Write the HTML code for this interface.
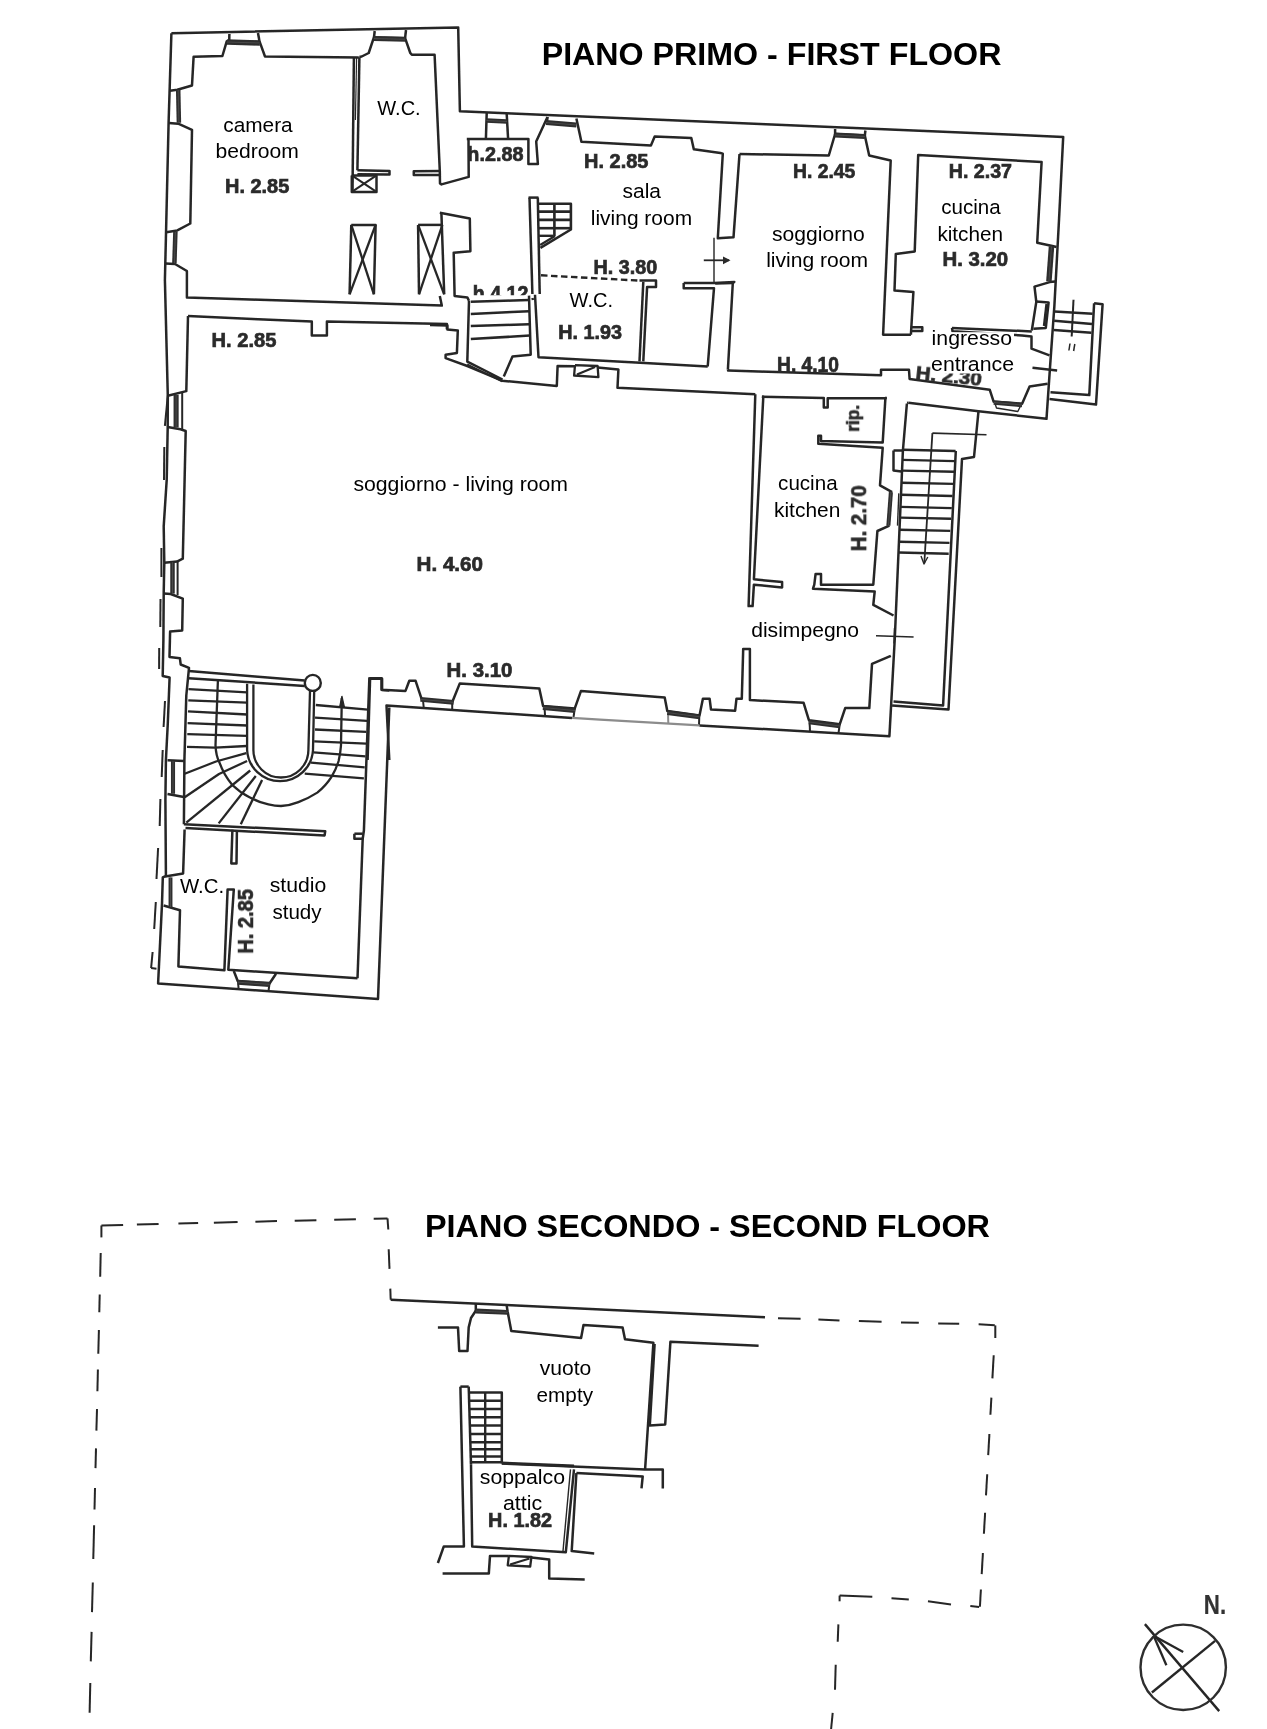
<!DOCTYPE html><html><head><meta charset="utf-8"><title>Floor plan</title><style>html,body{margin:0;padding:0;background:#fff}body{width:1267px;height:1729px;overflow:hidden}svg{display:block}text{font-family:'Liberation Sans', Arial, Helvetica, sans-serif;fill:#000}.h{fill:#2b2b2b;stroke:#2b2b2b;stroke-width:0.7px}.n{fill:#333;stroke:#333;stroke-width:0.2px}</style></head><body>
<svg width="1267" height="1729" viewBox="0 0 1267 1729">
<defs><clipPath id="c412"><rect x="465" y="280" width="70" height="15.2"/></clipPath><filter id="b" x="-5%" y="-5%" width="110%" height="110%"><feGaussianBlur stdDeviation="0.38"/></filter><filter id="t" x="-5%" y="-20%" width="110%" height="140%"><feGaussianBlur stdDeviation="0.22"/></filter></defs>
<rect width="1267" height="1729" fill="#fff"/>
<g fill="none" stroke="#262626" stroke-linejoin="round" stroke-linecap="butt" filter="url(#b)">
<polyline points="171.4,33.2 458.2,27.4 459.9,111.2 1063.2,136.9 1059.0,220.0 1054.4,305.6 1049.8,370.4 1046.5,418.8 978.5,411.2 908.4,402.7" stroke-width="2.5"/>
<polyline points="171.4,33.2 168.6,122.8 166.0,234.0 164.9,280.0 167.8,395.7 167.7,427.0 166.7,480.0 163.7,526.3 164.3,562.8 163.7,593.4 163.4,640.0 162.7,676.1 169.6,677.5 167.8,723.3 165.9,760.3 165.4,800.0 165.9,875.8 162.8,877.4 162.0,903.9 158.1,983.5 378.0,998.9 389.3,707.5" stroke-width="2.5"/>
<polyline points="358.8,57.5 265.0,56.5 259.8,42.1 226.8,41.2 222.4,56.0 193.6,56.8 192.0,85.5 177.3,89.8 170.0,90.7" stroke-width="2.5"/>
<polyline points="229.4,34.0 229.2,41.2" stroke-width="2.5"/>
<polyline points="258.0,33.0 259.6,42.0" stroke-width="2.5"/>
<polyline points="168.8,123.0 178.2,123.7 192.0,129.8 190.3,223.5 177.3,230.4 166.2,232.2" stroke-width="2.5"/>
<polyline points="165.4,263.5 175.0,264.0 186.9,271.0 186.9,297.4 441.8,305.6 439.8,296.0" stroke-width="2.5"/>
<polyline points="353.9,57.3 352.5,191.9" stroke-width="2.5"/>
<polyline points="359.4,57.3 357.4,170.2" stroke-width="2.5"/>
<polyline points="356.6,57.3 355.4,120.0" stroke-width="1.2"/>
<polyline points="359.4,57.0 361.7,56.5 368.7,53.0 373.9,37.4 405.1,38.2 410.3,53.0 411.8,54.7 434.6,54.7 439.8,171.1" stroke-width="2.5"/>
<polyline points="374.7,31.0 374.0,37.4" stroke-width="2.5"/>
<polyline points="406.0,30.0 405.1,38.0" stroke-width="2.5"/>
<polyline points="357.4,170.2 389.5,171.1 389.5,174.6 357.4,174.2" stroke-width="2.5"/>
<polyline points="439.8,170.9 413.8,171.2 413.8,174.9 439.8,174.9" stroke-width="2.5"/>
<polyline points="351.8,175.4 376.5,175.4 376.5,191.9 351.8,191.9 351.8,175.4" stroke-width="2.5"/>
<polyline points="351.8,175.4 376.5,191.9" stroke-width="2.0"/>
<polyline points="376.5,175.4 351.8,191.9" stroke-width="2.0"/>
<polyline points="439.8,171.1 440.0,183.4 441.5,184.4 468.7,176.9 468.5,139.8" stroke-width="2.5"/>
<polyline points="466.8,138.9 528.4,138.9 528.4,164.1 537.9,164.1 536.2,141.5 547.5,117.0" stroke-width="2.5"/>
<polyline points="486.7,113.0 485.9,138.9" stroke-width="2.5"/>
<polyline points="506.7,114.0 508.1,138.9" stroke-width="2.5"/>
<polyline points="351.3,224.9 375.6,224.9 373.9,294.3" stroke-width="2.5"/>
<polyline points="351.3,224.9 349.6,294.3" stroke-width="2.5"/>
<polyline points="351.3,224.9 373.9,294.3" stroke-width="2.3"/>
<polyline points="375.6,224.9 349.6,294.3" stroke-width="2.3"/>
<polyline points="418.1,224.9 442.4,224.9" stroke-width="2.5"/>
<polyline points="418.1,224.9 419.0,294.3" stroke-width="2.5"/>
<polyline points="418.1,224.9 444.2,294.3" stroke-width="2.3"/>
<polyline points="442.4,224.9 419.0,294.3" stroke-width="2.3"/>
<polyline points="439.8,212.7 469.8,218.4 470.4,251.2 453.7,252.7 454.6,296.0 467.3,297.4 469.0,300.8" stroke-width="2.5"/>
<polyline points="441.4,213.0 444.2,294.3" stroke-width="2.5"/>
<polyline points="469.0,300.8 467.3,361.6 502.5,379.5" stroke-width="2.5"/>
<polyline points="467.3,364.0 502.0,381.5" stroke-width="1.4"/>
<polyline points="470.8,301.7 529.0,300.0" stroke-width="2.5"/>
<polyline points="470.8,313.9 529.0,311.3" stroke-width="2.5"/>
<polyline points="470.8,326.0 529.3,324.3" stroke-width="2.5"/>
<polyline points="470.8,339.0 529.8,335.6" stroke-width="2.5"/>
<polyline points="529.0,295.6 530.7,354.7 512.5,356.4 503.8,376.4" stroke-width="2.5"/>
<polyline points="528.5,197.6 538.5,197.6" stroke-width="2.5"/>
<polyline points="529.5,197.6 532.4,294.0" stroke-width="2.5"/>
<polyline points="537.8,197.6 539.7,294.0" stroke-width="2.5"/>
<polyline points="532.4,298.0 533.0,300.0" stroke-width="2.5"/>
<polyline points="535.0,294.8 538.5,357.3 635.8,362.5 707.7,366.5" stroke-width="2.5"/>
<polyline points="538.5,203.7 570.9,203.7 570.9,229.5 540.4,247.9" stroke-width="2.6"/>
<polyline points="538.7,211.6 570.9,211.6" stroke-width="2.6"/>
<polyline points="538.9,219.9 570.9,219.9" stroke-width="2.6"/>
<polyline points="539.0,228.2 570.9,228.2" stroke-width="2.6"/>
<polyline points="539.2,235.8 553.0,235.8" stroke-width="2.4"/>
<polyline points="554.4,203.7 554.4,236.0" stroke-width="2.6"/>
<polyline points="555.0,236.0 540.2,245.0" stroke-width="2.2"/>
<polyline points="430.0,325.1 447.4,325.5 447.4,329.5 457.8,330.4 456.9,352.9 445.6,354.7 445.6,358.1 467.3,366.0 502.1,380.7 556.8,385.9 557.6,366.0 575.0,366.2" stroke-width="2.5"/>
<polyline points="597.6,367.5 618.4,369.4 617.5,387.7 755.3,394.2" stroke-width="2.5"/>
<polyline points="575.0,365.1 597.6,366.0 598.4,377.2 574.1,375.5 575.0,365.1" stroke-width="2.3"/>
<polyline points="577.0,374.6 595.0,367.0" stroke-width="2.2"/>
<polyline points="547.5,117.0 547.0,122.0" stroke-width="2.5"/>
<polyline points="576.4,118.5 581.4,141.7 650.9,145.5 654.7,136.6 691.3,137.9 693.8,149.3 720.4,153.0 722.8,153.6 717.8,238.3 733.5,237.3 739.5,154.0" stroke-width="2.5"/>
<polyline points="714.0,237.7 714.0,281.9" stroke-width="1.4"/>
<polyline points="683.7,283.1 714.0,283.0 734.3,281.9 732.8,283.0 727.9,369.5" stroke-width="2.5"/>
<polyline points="683.7,283.1 683.7,288.2 714.0,288.2 707.7,366.5" stroke-width="2.5"/>
<polyline points="703.8,260.3 729.0,260.3" stroke-width="1.8"/>
<polyline points="639.5,280.6 656.0,280.6 656.0,286.9 647.1,286.9 643.3,361.4" stroke-width="2.5"/>
<polyline points="643.3,281.9 639.5,361.4" stroke-width="2.5"/>
<polyline points="541.0,275.3 639.5,280.6" stroke-width="2.4" stroke-dasharray="6.5,3.5"/>
<polyline points="739.5,154.0 828.8,155.5 835.1,134.0 864.8,135.5 869.2,155.5 890.7,160.5 883.1,334.8 910.9,334.8" stroke-width="2.5"/>
<polyline points="835.1,129.0 835.1,135.0" stroke-width="2.5"/>
<polyline points="865.4,130.5 864.8,136.0" stroke-width="2.5"/>
<polyline points="715.2,283.5 732.8,283.0" stroke-width="2.5"/>
<polyline points="727.9,369.5 728.2,370.6 881.0,375.3 881.0,369.8 909.0,369.8 909.6,379.0 989.7,389.7 993.7,401.8 1022.1,403.7 1029.6,386.6 1047.6,383.8" stroke-width="2.5"/>
<polyline points="994.5,402.0 996.5,408.0 1017.8,411.5 1021.5,404.0" stroke-width="1.4"/>
<polyline points="910.9,334.8 913.4,291.9 894.5,290.6 895.8,254.0 914.7,251.4 918.2,155.0 1041.6,162.0 1037.2,242.7 1052.4,246.0 1056.5,247.0" stroke-width="2.5"/>
<polyline points="1055.3,281.5 1049.7,282.1 1034.5,286.6 1036.3,301.9 1031.8,330.5" stroke-width="2.5"/>
<polyline points="1036.3,301.5 1048.6,302.5 1045.8,327.9 1033.4,328.8" stroke-width="2.5"/>
<polyline points="1046.5,304.0 1044.0,326.0" stroke-width="2.4"/>
<polyline points="910.9,327.2 922.3,327.2 922.3,331.0 910.9,331.0" stroke-width="2.5"/>
<polyline points="952.0,327.9 1031.8,331.4" stroke-width="2.5"/>
<polyline points="952.0,327.9 952.5,331.2 1022.1,335.5 1031.5,336.4 1031.5,348.7 1049.5,355.4" stroke-width="2.5"/>
<polyline points="1032.5,367.7 1057.1,370.5" stroke-width="2.6"/>
<polyline points="1054.4,311.4 1092.6,313.7" stroke-width="2.5"/>
<polyline points="1054.2,320.7 1092.0,324.1" stroke-width="2.5"/>
<polyline points="1053.8,329.9 1091.4,332.8" stroke-width="2.5"/>
<polyline points="1073.5,299.8 1071.7,336.5" stroke-width="2.0"/>
<polyline points="1070.0,343.5 1068.9,350.5" stroke-width="1.5"/>
<polyline points="1074.8,344.0 1073.6,351.0" stroke-width="1.5"/>
<polyline points="1094.1,303.3 1102.6,304.2 1096.0,404.6 1049.5,398.9" stroke-width="2.5"/>
<polyline points="1094.1,303.3 1089.3,395.1 1050.5,392.3" stroke-width="2.5"/>
<polyline points="761.9,396.7 823.8,398.0 823.8,407.6 827.7,407.6 827.7,398.2 885.4,398.2 882.7,442.5 821.0,441.1 821.0,435.7 818.3,435.7 818.3,443.8 882.7,447.8 880.0,485.4 892.1,492.1" stroke-width="2.5"/>
<polyline points="885.0,398.0 886.9,398.0" stroke-width="2.5"/>
<polyline points="907.1,403.0 908.4,402.7" stroke-width="2.5"/>
<polyline points="188.0,316.0 311.8,321.6 311.8,335.5 326.9,335.5 326.9,321.6 446.9,324.1 446.9,329.2" stroke-width="2.5"/>
<polyline points="188.0,316.0 186.3,391.1 167.8,395.7" stroke-width="2.5"/>
<polyline points="182.2,392.5 182.2,429.5" stroke-width="2.0"/>
<polyline points="167.8,395.7 164.9,425.8" stroke-width="2.0"/>
<polyline points="167.6,427.0 180.5,429.3 185.7,431.0 184.6,480.0 182.8,558.7 177.0,561.6 164.3,562.8" stroke-width="2.5"/>
<polyline points="177.6,561.5 177.6,595.0" stroke-width="2.0"/>
<polyline points="163.7,593.4 170.7,594.0 182.8,598.6 182.2,630.5 170.1,631.6 169.5,657.1 179.9,658.2 180.7,664.5 189.0,667.8 186.3,695.5 184.4,760.3 183.9,824.2" stroke-width="2.5"/>
<polyline points="367.6,760.0 370.1,678.3 381.5,678.3 381.5,689.7 405.5,690.9 409.3,680.8 415.6,680.8 421.9,699.8 452.2,702.3 459.8,683.4 539.3,688.4 543.1,706.1 574.7,708.6 581.0,690.9 664.7,697.4 667.3,710.9 699.5,715.5 702.9,698.7 709.6,698.7 711.0,709.5 735.1,710.8 736.5,698.7 741.8,698.7 743.2,649.1 749.9,649.1 749.9,700.1 803.6,702.8 808.9,720.2 839.8,724.2 845.2,708.1 869.3,708.1 872.0,663.9 890.8,655.8" stroke-width="2.5"/>
<polyline points="423.0,700.0 423.8,708.5" stroke-width="2.0"/>
<polyline points="452.2,702.3 452.2,711.0" stroke-width="2.0"/>
<polyline points="544.5,707.0 545.0,715.0" stroke-width="2.0"/>
<polyline points="574.7,708.6 573.5,717.5" stroke-width="2.0"/>
<polyline points="668.0,712.0 668.3,723.5" stroke-width="2.0" stroke="#8c8c8c"/>
<polyline points="699.3,716.0 699.0,725.0" stroke-width="2.0"/>
<polyline points="809.5,721.0 810.0,731.0" stroke-width="2.0"/>
<polyline points="839.8,724.2 838.5,733.0" stroke-width="2.0"/>
<polyline points="389.3,760.0 386.5,705.6 572.0,717.9" stroke-width="2.5"/>
<polyline points="572.0,717.9 600.0,719.7 699.5,725.4" stroke-width="2.3" stroke="#8c8c8c"/>
<polyline points="699.5,725.4 889.4,736.3 894.8,638.3 902.9,450.5 906.9,403.5" stroke-width="2.5"/>
<polyline points="755.3,394.2 748.6,606.1 752.6,606.1 753.9,584.7 782.1,587.4 782.1,582.0 753.9,579.3 763.3,396.8 761.9,396.7" stroke-width="2.5"/>
<polyline points="898.8,493.4 897.5,525.6" stroke-width="1.4"/>
<polyline points="889.4,525.6 877.4,531.0 873.3,584.7 821.0,584.7 821.0,573.9 815.6,573.9 814.3,584.7 813.0,588.7 874.7,591.4 873.3,604.8 893.5,615.5" stroke-width="2.5"/>
<polyline points="876.0,635.7 913.6,637.0" stroke-width="1.6"/>
<polyline points="894.5,628.0 894.0,643.5" stroke-width="1.4"/>
<polyline points="978.5,411.2 974.0,457.0 962.0,459.0 948.5,709.5 892.1,705.4" stroke-width="2.5"/>
<polyline points="932.4,433.1 986.5,434.8" stroke-width="1.6"/>
<polyline points="932.4,433.1 924.3,563.2" stroke-width="1.8"/>
<polyline points="921.0,556.0 924.0,564.0 927.8,557.0" stroke-width="1.4"/>
<polyline points="955.8,451.0 943.1,705.4 893.5,701.4" stroke-width="2.5"/>
<polyline points="893.5,450.5 902.9,450.5" stroke-width="2.5"/>
<polyline points="893.5,450.5 893.5,470.6 901.5,471.6" stroke-width="2.5"/>
<polyline points="902.9,449.8 955.6,451.0" stroke-width="2.4"/>
<polyline points="902.4,459.9 954.8,461.1" stroke-width="2.4"/>
<polyline points="902.0,470.6 954.1,471.8" stroke-width="2.4"/>
<polyline points="901.5,482.7 953.3,483.9" stroke-width="2.4"/>
<polyline points="901.1,494.8 952.5,496.0" stroke-width="2.4"/>
<polyline points="900.6,506.9 951.8,508.1" stroke-width="2.4"/>
<polyline points="900.2,517.6 951.0,518.8" stroke-width="2.4"/>
<polyline points="899.7,529.7 950.2,530.9" stroke-width="2.4"/>
<polyline points="899.3,541.7 949.5,542.9" stroke-width="2.4"/>
<polyline points="898.8,552.5 948.7,553.7" stroke-width="2.4"/>
<polyline points="188.7,671.0 304.7,680.5" stroke-width="2.5"/>
<polyline points="188.7,678.2 304.7,686.0" stroke-width="2.5"/>
<polyline points="188.5,689.2 247.1,692.4" stroke-width="2.3"/>
<polyline points="188.3,700.3 247.1,702.6" stroke-width="2.3"/>
<polyline points="188.0,711.3 247.1,714.5" stroke-width="2.3"/>
<polyline points="187.6,723.1 247.1,725.5" stroke-width="2.3"/>
<polyline points="187.3,734.2 247.1,735.8" stroke-width="2.3"/>
<polyline points="187.0,746.8 215.0,747.6 247.0,746.0" stroke-width="2.3"/>
<polyline points="246.3,753.1 216.0,761.5 184.7,773.7" stroke-width="2.3"/>
<polyline points="247.1,761.0 219.0,774.0 184.7,797.3" stroke-width="2.3"/>
<polyline points="250.2,770.5 186.3,822.6" stroke-width="2.3"/>
<polyline points="255.8,776.0 218.7,823.4" stroke-width="2.3"/>
<polyline points="262.1,780.0 240.8,824.2" stroke-width="2.3"/>
<polyline points="315.8,705.0 367.8,709.7" stroke-width="2.3"/>
<polyline points="315.0,717.6 367.0,720.8" stroke-width="2.3"/>
<polyline points="315.0,729.5 366.3,731.8" stroke-width="2.3"/>
<polyline points="314.2,741.3 366.3,743.7" stroke-width="2.3"/>
<polyline points="313.4,752.3 365.5,756.3" stroke-width="2.3"/>
<polyline points="311.0,762.6 364.7,767.3" stroke-width="2.3"/>
<polyline points="304.7,773.7 363.9,778.4" stroke-width="2.3"/>
<polyline points="369.4,677.4 363.9,830.5 362.7,838.8 357.5,978.3" stroke-width="2.5"/>
<polyline points="369.8,678.7 382.1,678.7 382.1,690.0 389.3,690.5" stroke-width="2.5"/>
<polyline points="354.4,833.7 362.7,833.7" stroke-width="2.5"/>
<polyline points="354.4,833.7 354.4,838.8 362.7,838.8" stroke-width="2.5"/>
<polyline points="183.9,824.2 325.2,831.3 324.6,835.4 185.5,828.1" stroke-width="2.5"/>
<polyline points="232.4,829.8 231.3,863.4 236.5,863.4 236.9,830.0" stroke-width="2.5"/>
<polyline points="167.5,760.3 183.9,761.1" stroke-width="2.5"/>
<polyline points="167.5,793.9 183.9,797.0" stroke-width="2.5"/>
<polyline points="184.6,829.5 183.1,873.5 165.1,876.6" stroke-width="2.5"/>
<polyline points="163.6,905.5 180.0,910.2 178.4,966.4 224.4,970.3 227.6,889.5 233.8,889.5 228.3,969.8 357.5,978.3" stroke-width="2.5"/>
<polyline points="233.8,971.0 237.8,981.2 269.5,983.5 276.0,973.8" stroke-width="2.5"/>
<polyline points="238.0,981.5 238.6,989.0" stroke-width="2.0"/>
<polyline points="269.5,983.5 268.5,991.0" stroke-width="2.0"/>
<polyline points="164.3,447.0 164.0,480.0" stroke-width="2.0"/>
<polyline points="161.4,548.0 161.4,577.0" stroke-width="2.0"/>
<polyline points="160.5,599.0 160.3,627.0" stroke-width="2.0"/>
<polyline points="159.2,648.0 159.1,669.0" stroke-width="2.0"/>
<polyline points="165.0,701.0 163.6,727.0" stroke-width="2.0"/>
<polyline points="162.7,750.0 161.7,777.0" stroke-width="2.0"/>
<polyline points="160.4,799.0 159.7,826.0" stroke-width="2.0"/>
<polyline points="158.1,848.0 156.5,879.0" stroke-width="2.0"/>
<polyline points="155.8,902.0 154.2,929.0" stroke-width="2.0"/>
<polyline points="152.6,952.0 151.1,968.0" stroke-width="2.0"/>
<polyline points="151.1,968.0 156.5,968.7" stroke-width="2.0"/>
<polyline points="101.4,1225.5 123.1,1225.0" stroke-width="2.0"/>
<polyline points="136.9,1224.6 158.6,1224.1" stroke-width="2.0"/>
<polyline points="178.4,1223.6 198.1,1223.1" stroke-width="2.0"/>
<polyline points="213.9,1222.7 237.6,1222.1" stroke-width="2.0"/>
<polyline points="255.4,1221.7 277.0,1221.1" stroke-width="2.0"/>
<polyline points="294.7,1220.7 316.4,1220.2" stroke-width="2.0"/>
<polyline points="334.2,1219.7 355.9,1219.2" stroke-width="2.0"/>
<polyline points="373.7,1218.7 387.5,1218.4" stroke-width="2.0"/>
<polyline points="387.5,1218.4 388.3,1229.5" stroke-width="2.0"/>
<polyline points="388.7,1249.2 389.5,1268.9" stroke-width="2.0"/>
<polyline points="390.3,1288.6 390.7,1299.7" stroke-width="2.0"/>
<polyline points="101.4,1225.5 101.4,1237.4" stroke-width="2.0"/>
<polyline points="100.7,1253.1 100.2,1276.8" stroke-width="2.0"/>
<polyline points="99.7,1294.5 99.3,1312.3" stroke-width="2.0"/>
<polyline points="98.9,1330.0 98.3,1353.7" stroke-width="2.0"/>
<polyline points="97.9,1369.5 97.4,1391.2" stroke-width="2.0"/>
<polyline points="97.0,1409.0 96.4,1430.6" stroke-width="2.0"/>
<polyline points="96.0,1448.4 95.5,1468.1" stroke-width="2.0"/>
<polyline points="95.0,1487.9 94.5,1509.6" stroke-width="2.0"/>
<polyline points="94.1,1525.3 93.3,1558.9" stroke-width="2.0"/>
<polyline points="92.8,1582.5 92.0,1612.1" stroke-width="2.0"/>
<polyline points="91.6,1631.9 90.8,1661.4" stroke-width="2.0"/>
<polyline points="90.3,1683.1 89.6,1712.7" stroke-width="2.0"/>
<polyline points="390.7,1299.7 765.0,1317.2" stroke-width="2.5"/>
<polyline points="778.0,1318.2 800.6,1318.8" stroke-width="2.0"/>
<polyline points="818.4,1319.5 839.5,1320.5" stroke-width="2.0"/>
<polyline points="858.9,1321.1 881.6,1321.7" stroke-width="2.0"/>
<polyline points="901.0,1322.4 918.8,1322.7" stroke-width="2.0"/>
<polyline points="938.2,1323.4 959.2,1323.7" stroke-width="2.0"/>
<polyline points="978.6,1324.3 994.8,1325.3" stroke-width="2.0"/>
<polyline points="995.3,1325.4 995.3,1338.0" stroke-width="2.0"/>
<polyline points="993.7,1355.3 992.4,1378.4" stroke-width="2.0"/>
<polyline points="991.4,1397.6 990.4,1414.8" stroke-width="2.0"/>
<polyline points="989.4,1434.0 988.2,1455.1" stroke-width="2.0"/>
<polyline points="987.2,1474.3 986.0,1495.4" stroke-width="2.0"/>
<polyline points="985.1,1512.7 983.9,1533.8" stroke-width="2.0"/>
<polyline points="982.9,1553.0 981.7,1574.1" stroke-width="2.0"/>
<polyline points="980.9,1589.5 979.9,1606.7" stroke-width="2.0"/>
<polyline points="979.1,1607.1 970.3,1606.0" stroke-width="2.0"/>
<polyline points="951.0,1604.4 928.0,1601.3" stroke-width="2.0"/>
<polyline points="908.8,1599.4 891.5,1598.3" stroke-width="2.0"/>
<polyline points="872.3,1596.7 839.6,1595.6" stroke-width="2.0"/>
<polyline points="839.6,1595.6 839.6,1601.3" stroke-width="2.0"/>
<polyline points="838.4,1624.4 837.7,1641.7" stroke-width="2.0"/>
<polyline points="835.7,1664.8 835.0,1689.8" stroke-width="2.0"/>
<polyline points="832.7,1712.8 831.1,1729.0" stroke-width="2.0"/>
<polyline points="437.9,1327.4 458.0,1327.4 459.2,1351.0 467.5,1351.0 468.7,1327.4 471.0,1318.0 475.8,1310.8" stroke-width="2.5"/>
<polyline points="475.8,1303.7 475.8,1311.0" stroke-width="2.5"/>
<polyline points="506.6,1304.9 507.7,1312.0" stroke-width="2.5"/>
<polyline points="507.7,1312.0 511.3,1330.9 581.1,1338.0 583.5,1325.0 622.6,1327.4 625.0,1339.2 653.4,1342.8 645.1,1469.4" stroke-width="2.5"/>
<polyline points="654.6,1344.0 649.8,1425.6 665.2,1424.4 670.4,1341.8 758.6,1345.7" stroke-width="2.5"/>
<polyline points="501.8,1463.5 645.1,1469.4 662.8,1469.4 662.8,1488.4" stroke-width="2.5"/>
<polyline points="501.8,1463.0 574.0,1466.0" stroke-width="2.8"/>
<polyline points="576.4,1473.0 642.7,1476.5 641.5,1488.4" stroke-width="2.5"/>
<polyline points="576.4,1473.0 571.7,1551.1 594.2,1553.5" stroke-width="2.5"/>
<polyline points="471.0,1464.7 472.2,1546.4 565.8,1552.3 574.0,1469.4" stroke-width="2.5"/>
<polyline points="570.5,1469.4 563.0,1551.0" stroke-width="1.4"/>
<polyline points="460.4,1386.6 468.7,1386.6" stroke-width="2.5"/>
<polyline points="460.4,1386.6 463.9,1546.4 443.8,1546.4 437.9,1563.0" stroke-width="2.5"/>
<polyline points="468.7,1386.6 471.0,1464.7" stroke-width="2.5"/>
<polyline points="469.9,1392.5 501.8,1392.5 501.8,1463.5" stroke-width="2.5"/>
<polyline points="469.9,1400.8 501.8,1400.8" stroke-width="2.5"/>
<polyline points="469.9,1409.0 501.8,1409.0" stroke-width="2.5"/>
<polyline points="469.9,1417.3 501.8,1417.3" stroke-width="2.5"/>
<polyline points="469.9,1425.6 501.8,1425.6" stroke-width="2.5"/>
<polyline points="469.9,1433.9 501.8,1433.9" stroke-width="2.5"/>
<polyline points="469.9,1442.2 501.8,1442.2" stroke-width="2.5"/>
<polyline points="469.9,1449.3 501.8,1449.3" stroke-width="2.5"/>
<polyline points="469.9,1456.4 501.8,1456.4" stroke-width="2.5"/>
<polyline points="469.9,1462.3 501.8,1462.3" stroke-width="2.5"/>
<polyline points="485.2,1392.5 485.2,1463.0" stroke-width="2.4"/>
<polyline points="442.6,1573.6 488.8,1573.6 490.0,1555.9 508.9,1555.9" stroke-width="2.5"/>
<polyline points="531.4,1557.5 549.2,1559.4 549.2,1578.4 584.7,1579.5" stroke-width="2.5"/>
<polyline points="508.9,1555.9 531.4,1557.0 530.2,1566.5 507.7,1565.3 508.9,1555.9" stroke-width="2.3"/>
<polyline points="510.0,1564.5 529.5,1558.5" stroke-width="2.2"/>
<polyline points="1144.9,1624.1 1219.2,1711.1" stroke-width="2.4"/>
<polyline points="1215.1,1640.9 1151.9,1692.5" stroke-width="2.4"/>
<polyline points="1153.6,1635.7 1183.2,1651.9" stroke-width="2.3"/>
<polyline points="1153.6,1635.7 1166.4,1665.3" stroke-width="2.3"/>
<line x1="226.8" y1="42.0" x2="259.8" y2="43.0" stroke="#2e2e2e" stroke-width="5.5"/>
<line x1="226.8" y1="42.0" x2="259.8" y2="43.0" stroke="#5a5a5a" stroke-width="0.6"/>
<line x1="373.9" y1="38.5" x2="405.2" y2="39.3" stroke="#2e2e2e" stroke-width="5.1"/>
<line x1="373.9" y1="38.5" x2="405.2" y2="39.3" stroke="#5a5a5a" stroke-width="0.6"/>
<line x1="486.5" y1="120.5" x2="506.9" y2="121.5" stroke="#2e2e2e" stroke-width="4.5"/>
<line x1="486.5" y1="120.5" x2="506.9" y2="121.5" stroke="#5a5a5a" stroke-width="0.6"/>
<line x1="546.1" y1="122.5" x2="576.4" y2="125.0" stroke="#2e2e2e" stroke-width="4.9"/>
<line x1="546.1" y1="122.5" x2="576.4" y2="125.0" stroke="#5a5a5a" stroke-width="0.6"/>
<line x1="835.1" y1="135.0" x2="864.8" y2="136.5" stroke="#2e2e2e" stroke-width="4.9"/>
<line x1="835.1" y1="135.0" x2="864.8" y2="136.5" stroke="#5a5a5a" stroke-width="0.6"/>
<line x1="178.2" y1="90.0" x2="178.9" y2="122.8" stroke="#2e2e2e" stroke-width="4.5"/>
<line x1="178.2" y1="90.0" x2="178.9" y2="122.8" stroke="#5a5a5a" stroke-width="0.6"/>
<line x1="175.4" y1="231.8" x2="174.4" y2="263.3" stroke="#2e2e2e" stroke-width="4.5"/>
<line x1="175.4" y1="231.8" x2="174.4" y2="263.3" stroke="#5a5a5a" stroke-width="0.6"/>
<line x1="176.1" y1="394.8" x2="176.1" y2="427.5" stroke="#2e2e2e" stroke-width="5.1"/>
<line x1="176.1" y1="394.8" x2="176.1" y2="427.5" stroke="#5a5a5a" stroke-width="0.6"/>
<line x1="172.5" y1="562.2" x2="172.5" y2="593.6" stroke="#2e2e2e" stroke-width="4.5"/>
<line x1="172.5" y1="562.2" x2="172.5" y2="593.6" stroke="#5a5a5a" stroke-width="0.6"/>
<line x1="173.0" y1="761.0" x2="173.0" y2="793.8" stroke="#2e2e2e" stroke-width="4.1"/>
<line x1="173.0" y1="761.0" x2="173.0" y2="793.8" stroke="#5a5a5a" stroke-width="0.6"/>
<line x1="170.5" y1="877.4" x2="170.5" y2="907.0" stroke="#2e2e2e" stroke-width="3.9"/>
<line x1="170.5" y1="877.4" x2="170.5" y2="907.0" stroke="#5a5a5a" stroke-width="0.6"/>
<line x1="420.5" y1="699.4" x2="453.7" y2="702.4" stroke="#2e2e2e" stroke-width="4.9"/>
<line x1="420.5" y1="699.4" x2="453.7" y2="702.4" stroke="#5a5a5a" stroke-width="0.6"/>
<line x1="542.9" y1="707.5" x2="575.2" y2="710.6" stroke="#2e2e2e" stroke-width="4.9"/>
<line x1="542.9" y1="707.5" x2="575.2" y2="710.6" stroke="#5a5a5a" stroke-width="0.6"/>
<line x1="667.3" y1="712.6" x2="699.5" y2="716.8" stroke="#2e2e2e" stroke-width="4.7"/>
<line x1="667.3" y1="712.6" x2="699.5" y2="716.8" stroke="#5a5a5a" stroke-width="0.6"/>
<line x1="808.9" y1="722.0" x2="839.8" y2="726.0" stroke="#2e2e2e" stroke-width="4.7"/>
<line x1="808.9" y1="722.0" x2="839.8" y2="726.0" stroke="#5a5a5a" stroke-width="0.6"/>
<line x1="993.7" y1="402.5" x2="1022.1" y2="405.0" stroke="#2e2e2e" stroke-width="4.5"/>
<line x1="993.7" y1="402.5" x2="1022.1" y2="405.0" stroke="#5a5a5a" stroke-width="0.6"/>
<line x1="237.8" y1="982.2" x2="269.5" y2="984.4" stroke="#2e2e2e" stroke-width="5.1"/>
<line x1="237.8" y1="982.2" x2="269.5" y2="984.4" stroke="#5a5a5a" stroke-width="0.6"/>
<line x1="1051.5" y1="246.5" x2="1048.9" y2="281.5" stroke="#2e2e2e" stroke-width="5.5"/>
<line x1="1051.5" y1="246.5" x2="1048.9" y2="281.5" stroke="#5a5a5a" stroke-width="0.6"/>
<line x1="890.9" y1="492.1" x2="888.4" y2="525.6" stroke="#2e2e2e" stroke-width="4.1"/>
<line x1="890.9" y1="492.1" x2="888.4" y2="525.6" stroke="#5a5a5a" stroke-width="0.6"/>
<line x1="475.8" y1="1311.0" x2="507.7" y2="1312.4" stroke="#2e2e2e" stroke-width="4.9"/>
<line x1="475.8" y1="1311.0" x2="507.7" y2="1312.4" stroke="#5a5a5a" stroke-width="0.6"/>
</g>
<g filter="url(#b)">
<path d="M723,256.5 L730.5,260.3 L723,264.2 Z" fill="#2a2a2a"/>
<circle cx="312.8" cy="682.9" r="8" fill="#fff" stroke="#262626" stroke-width="2.4"/>
<path d="M247.1,683.7 L247.1,750 A33,33 0 0 0 313,750 L314.2,691" fill="none" stroke="#262626" stroke-width="2.3"/>
<path d="M253.4,684.5 L253.4,750 A27.4,27.4 0 0 0 308.4,750 L310,691" fill="none" stroke="#262626" stroke-width="2.3"/>
<path d="M217.9,680.5 L215.5,745.2 Q216,756 219.5,762.6 Q224,775 232.1,784.7 Q240,792.5 249.5,797.3 Q258,802 268.4,804.4 Q275,806 281,806 Q290,805.5 298.4,802.1 Q309,798 317.3,792.6 Q326,785.5 331.5,776.8 Q336,769.5 338.6,761 Q340.5,753 341,745.2 L341.8,697.9" fill="none" stroke="#262626" stroke-width="2.3"/>
<path d="M339.6,707 L341.9,696 L344.4,707 Z" fill="#262626" stroke="#262626" stroke-width="1.2"/>
<circle cx="1183.2" cy="1667.3" r="42.7" fill="none" stroke="#2e2e2e" stroke-width="2.4"/>
</g>
<text x="225.0" y="193.1" font-size="20.3" textLength="64.3" lengthAdjust="spacingAndGlyphs" class="h" font-weight="bold" filter="url(#b)">H. 2.85</text>
<text x="467.3" y="161.4" font-size="20.3" textLength="56.1" lengthAdjust="spacingAndGlyphs" class="h" font-weight="bold" filter="url(#b)">h.2.88</text>
<text x="584.0" y="167.7" font-size="20.3" textLength="64.4" lengthAdjust="spacingAndGlyphs" class="h" font-weight="bold" filter="url(#b)">H. 2.85</text>
<text x="593.6" y="274.3" font-size="20.3" textLength="63.6" lengthAdjust="spacingAndGlyphs" class="h" font-weight="bold" filter="url(#b)">H. 3.80</text>
<text x="558.2" y="338.7" font-size="20.3" textLength="63.7" lengthAdjust="spacingAndGlyphs" class="h" font-weight="bold" filter="url(#b)">H. 1.93</text>
<text x="793.0" y="177.7" font-size="20.3" textLength="62.3" lengthAdjust="spacingAndGlyphs" class="h" font-weight="bold" filter="url(#b)">H. 2.45</text>
<text x="948.8" y="178.2" font-size="20.3" textLength="63.2" lengthAdjust="spacingAndGlyphs" class="h" font-weight="bold" filter="url(#b)">H. 2.37</text>
<text x="942.5" y="265.8" font-size="20.3" textLength="65.7" lengthAdjust="spacingAndGlyphs" class="h" font-weight="bold" filter="url(#b)">H. 3.20</text>
<text x="777.0" y="372.0" font-size="21.3" textLength="62.0" lengthAdjust="spacingAndGlyphs" class="h" font-weight="bold" filter="url(#b)">H. 4.10</text>
<text x="915.2" y="379.2" font-size="17.6" textLength="66.3" lengthAdjust="spacingAndGlyphs" transform="rotate(6 915.2 379.2)" class="h" font-weight="bold" filter="url(#b)">H. 2.30</text>
<text x="211.5" y="346.8" font-size="20.3" textLength="64.9" lengthAdjust="spacingAndGlyphs" class="h" font-weight="bold" filter="url(#b)">H. 2.85</text>
<text x="416.6" y="570.9" font-size="20.3" textLength="66.4" lengthAdjust="spacingAndGlyphs" class="h" font-weight="bold" filter="url(#b)">H. 4.60</text>
<text x="446.6" y="677.0" font-size="20.3" textLength="65.7" lengthAdjust="spacingAndGlyphs" class="h" font-weight="bold" filter="url(#b)">H. 3.10</text>
<text x="488.1" y="1527.0" font-size="20.3" textLength="63.9" lengthAdjust="spacingAndGlyphs" class="h" font-weight="bold" filter="url(#b)">H. 1.82</text>
<text x="866.3" y="551.1" font-size="21.5" textLength="65.7" lengthAdjust="spacingAndGlyphs" transform="rotate(-90 866.3 551.1)" class="h" font-weight="bold" filter="url(#b)">H. 2.70</text>
<text x="858.8" y="431.7" font-size="17.8" textLength="26.8" lengthAdjust="spacingAndGlyphs" transform="rotate(-90 858.8 431.7)" class="h" font-weight="bold" filter="url(#b)">rip.</text>
<text x="252.7" y="953.7" font-size="21.5" textLength="64.6" lengthAdjust="spacingAndGlyphs" transform="rotate(-90 252.7 953.7)" class="h" font-weight="bold" filter="url(#b)">H. 2.85</text>
<text x="1203.8" y="1614.3" font-size="27" textLength="22.3" lengthAdjust="spacingAndGlyphs" class="n" font-weight="bold" filter="url(#b)">N.</text>
<rect x="930.0" y="332.2" width="84.0" height="18.5" fill="#fff"/>
<rect x="931.0" y="356.0" width="84.5" height="17.5" fill="#fff"/>
<text x="541.7" y="65.4" font-size="32" textLength="459.7" lengthAdjust="spacingAndGlyphs" font-weight="bold" filter="url(#t)">PIANO PRIMO - FIRST FLOOR</text>
<text x="425.0" y="1237.4" font-size="32" textLength="565.0" lengthAdjust="spacingAndGlyphs" font-weight="bold" filter="url(#t)">PIANO SECONDO - SECOND FLOOR</text>
<text x="223.3" y="131.5" font-size="20.5" textLength="69.4" lengthAdjust="spacingAndGlyphs" filter="url(#t)">camera</text>
<text x="215.5" y="158.4" font-size="20.5" textLength="83.3" lengthAdjust="spacingAndGlyphs" filter="url(#t)">bedroom</text>
<text x="377.3" y="114.6" font-size="20.5" textLength="43.4" lengthAdjust="spacingAndGlyphs" filter="url(#t)">W.C.</text>
<text x="622.6" y="198.0" font-size="20.5" textLength="38.4" lengthAdjust="spacingAndGlyphs" filter="url(#t)">sala</text>
<text x="590.8" y="225.0" font-size="20.5" textLength="101.3" lengthAdjust="spacingAndGlyphs" filter="url(#t)">living room</text>
<text x="569.6" y="307.1" font-size="20.5" textLength="43.4" lengthAdjust="spacingAndGlyphs" filter="url(#t)">W.C.</text>
<text x="772.0" y="241.3" font-size="20.5" textLength="92.7" lengthAdjust="spacingAndGlyphs" filter="url(#t)">soggiorno</text>
<text x="766.2" y="266.6" font-size="20.5" textLength="101.8" lengthAdjust="spacingAndGlyphs" filter="url(#t)">living room</text>
<text x="941.2" y="214.1" font-size="20.5" textLength="59.4" lengthAdjust="spacingAndGlyphs" filter="url(#t)">cucina</text>
<text x="937.4" y="241.3" font-size="20.5" textLength="65.7" lengthAdjust="spacingAndGlyphs" filter="url(#t)">kitchen</text>
<text x="931.6" y="345.4" font-size="20.5" textLength="80.4" lengthAdjust="spacingAndGlyphs" filter="url(#t)">ingresso</text>
<text x="931.1" y="370.7" font-size="20.5" textLength="82.9" lengthAdjust="spacingAndGlyphs" filter="url(#t)">entrance</text>
<text x="353.4" y="490.8" font-size="20.5" textLength="214.6" lengthAdjust="spacingAndGlyphs" filter="url(#t)">soggiorno - living room</text>
<text x="778.1" y="490.0" font-size="20.5" textLength="59.5" lengthAdjust="spacingAndGlyphs" filter="url(#t)">cucina</text>
<text x="774.0" y="516.8" font-size="20.5" textLength="66.3" lengthAdjust="spacingAndGlyphs" filter="url(#t)">kitchen</text>
<text x="751.2" y="637.0" font-size="20.5" textLength="107.9" lengthAdjust="spacingAndGlyphs" filter="url(#t)">disimpegno</text>
<text x="180.0" y="893.2" font-size="20.5" textLength="44.1" lengthAdjust="spacingAndGlyphs" filter="url(#t)">W.C.</text>
<text x="269.7" y="892.2" font-size="20.5" textLength="56.6" lengthAdjust="spacingAndGlyphs" filter="url(#t)">studio</text>
<text x="272.4" y="918.8" font-size="20.5" textLength="49.2" lengthAdjust="spacingAndGlyphs" filter="url(#t)">study</text>
<text x="539.7" y="1375.2" font-size="20.5" textLength="51.6" lengthAdjust="spacingAndGlyphs" filter="url(#t)">vuoto</text>
<text x="536.6" y="1402.0" font-size="20.5" textLength="56.4" lengthAdjust="spacingAndGlyphs" filter="url(#t)">empty</text>
<text x="479.8" y="1483.6" font-size="20.5" textLength="85.2" lengthAdjust="spacingAndGlyphs" filter="url(#t)">soppalco</text>
<text x="503.0" y="1510.2" font-size="20.5" textLength="39.1" lengthAdjust="spacingAndGlyphs" filter="url(#t)">attic</text>
<g clip-path="url(#c412)"><text x="472.8" y="301" font-size="21.5" font-weight="bold" class="h" textLength="55.6" lengthAdjust="spacingAndGlyphs" filter="url(#b)">h.4.12</text></g>
</svg></body></html>
